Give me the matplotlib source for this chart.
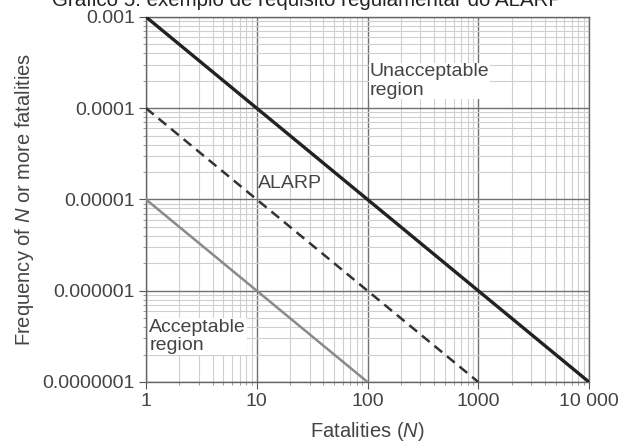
import matplotlib.pyplot as plt
from matplotlib.ticker import FixedLocator, LogLocator, NullFormatter

plt.rcParams['font.family'] = ['Liberation Sans', 'DejaVu Sans']
plt.rcParams['mathtext.fontset'] = 'custom'
plt.rcParams['mathtext.it'] = 'Liberation Sans:italic'
plt.rcParams['mathtext.rm'] = 'Liberation Sans'

# data
unacc_n = [1, 10000]
unacc_f = [1e-3, 1e-7]
alarp_n = [1, 1000]
alarp_f = [1e-4, 1e-7]
acc_n = [1, 100]
acc_f = [1e-5, 1e-7]

x_ticks = [1, 10, 100, 1000, 10000]
x_labels = ['1', '10', '100', '1000', '10 000']
y_ticks = [1e-7, 1e-6, 1e-5, 1e-4, 1e-3]
y_labels = ['0.0000001', '0.000001', '0.00001', '0.0001', '0.001']

txt = '#444444'
fs = 14

fig = plt.figure(figsize=(6.2, 4.46), dpi=100)
ax = fig.add_axes([0.2355, 0.1435, 0.7145, 0.8185])

ax.plot(unacc_n, unacc_f, color='#222222', lw=2.4, zorder=4)
ax.plot(alarp_n, alarp_f, color='#333333', lw=1.8, ls=(0, (4, 2.5)), zorder=4)
ax.plot(acc_n, acc_f, color='#8a8a8a', lw=1.8, zorder=4)

ax.set_xscale('log')
ax.set_yscale('log')
ax.set_xlim(1, 10000)
ax.set_ylim(1e-7, 1e-3)

ax.xaxis.set_major_locator(FixedLocator(x_ticks))
ax.set_xticklabels(x_labels)
ax.yaxis.set_major_locator(FixedLocator(y_ticks))
ax.set_yticklabels(y_labels)
ax.xaxis.set_minor_locator(LogLocator(base=10, subs=range(2, 10)))
ax.yaxis.set_minor_locator(LogLocator(base=10, subs=range(2, 10)))
ax.xaxis.set_minor_formatter(NullFormatter())
ax.yaxis.set_minor_formatter(NullFormatter())

ax.grid(which='major', color='#707070', lw=1.0)
ax.grid(which='minor', color='#cfcfcf', lw=0.8)
ax.set_axisbelow(True)

ax.tick_params(which='major', length=5, color='#555555', labelsize=fs, labelcolor=txt, pad=3)
ax.tick_params(which='minor', length=2.5, color='#888888')
for s in ax.spines.values():
    s.set_color('#666666')
    s.set_linewidth(1.0)

ax.set_xlabel('Fatalities ($\\it{N}$)', fontsize=14.5, color=txt, labelpad=7)
ax.set_ylabel('Frequency of $\\it{N}$ or more fatalities', fontsize=14.5, color=txt, labelpad=5)

box = dict(facecolor='white', edgecolor='none', pad=0.5)
ax.text(105, 3.1e-4, 'Unacceptable\nregion', fontsize=fs, color=txt, va='top', ha='left',
        linespacing=1.1, bbox=box, zorder=3)
ax.text(10.3, 1.2e-5, 'ALARP', fontsize=fs, color=txt, va='bottom', ha='left', zorder=3)
ax.text(1.07, 4.9e-7, 'Acceptable\nregion', fontsize=fs, color=txt, va='top', ha='left',
        linespacing=1.1, bbox=box, zorder=3)

# title is cropped at the top edge in the source image
fig.text(0.495, 1 - 6.5 / 446, 'Gráfico 5: exemplo de requisito regulamentar do ALARP',
         fontsize=14.8, color='#222222', ha='center', va='baseline')

fig.savefig('out.png', dpi=100)
